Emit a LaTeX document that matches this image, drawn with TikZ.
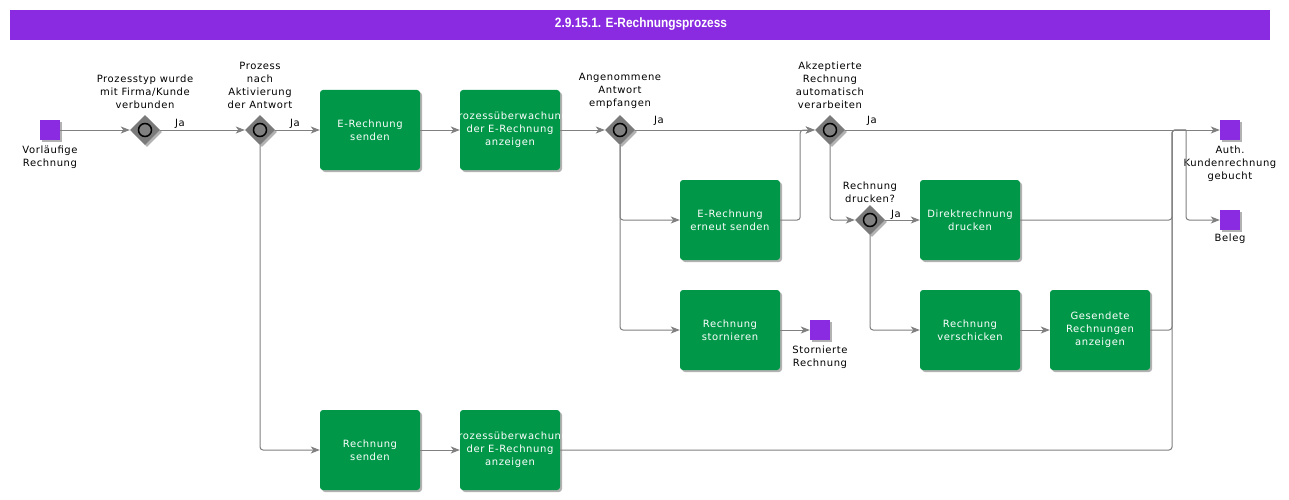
\documentclass[tikz,border=0pt]{standalone}
\usepackage{fontspec}
\setmainfont{DejaVu Sans}[LetterSpace=6]
\newfontfamily\titlefont{Liberation Sans}[FakeStretch=0.88]
\usetikzlibrary{shapes.geometric,arrows.meta,shadows}
\definecolor{pgreen}{HTML}{009848}
\definecolor{ppurple}{HTML}{8A2BE2}
\definecolor{lgray}{HTML}{808080}
\definecolor{dgray}{HTML}{7A7A7A}
\begin{document}
\begin{tikzpicture}[x=1pt,y=-1pt,
  font=\fontsize{10}{13}\selectfont,
  shad/.style={drop shadow={shadow xshift=2pt,shadow yshift=-2pt,opacity=0.3,fill=black}},
  task/.style={rectangle,rounded corners=3pt,fill=pgreen,minimum width=100pt,minimum height=80pt,inner sep=0pt,text=white,align=center,shad},
  ev/.style={rectangle,fill=ppurple,minimum size=20pt,inner sep=0pt,shad},
  gw/.style={diamond,fill=dgray,minimum width=30pt,minimum height=30pt,inner sep=0pt,shad},
  gwc/.style={circle,draw=black,line width=1.5pt,fill=lgray,minimum size=13pt,inner sep=0pt},
  lbl/.style={align=center,inner sep=0pt,text=black},
  conn/.style={draw=lgray,line width=1pt,rounded corners=3pt,-{Stealth[length=9pt,width=7pt,inset=2.5pt]}},
  line/.style={draw=lgray,line width=1pt,rounded corners=3pt}
]
\useasboundingbox (0,0) rectangle (1289,500);
\fill[white] (0,0) rectangle (1289,500);
% title
\fill[ppurple] (10,10) rectangle (1270,40);
\node[text=white,font=\titlefont\bfseries\fontsize{13.5}{15}\selectfont] (title) at (641,24.5) {2.9.15.1. E-Rechnungsprozess};

% events
\node[ev] (s1) at (50,130) {};
\node[lbl,anchor=north] (s1l) at (50,146) {Vorläufige\\Rechnung};
\node[ev] (storn) at (820,330) {};
\node[lbl,anchor=north] (stornl) at (820,346) {Stornierte\\Rechnung};
\node[ev] (auth) at (1230,130) {};
\node[lbl,anchor=north] (authl) at (1230,146) {Auth.\\Kundenrechnung\\gebucht};
\node[ev] (beleg) at (1230,220) {};
\node[lbl,anchor=north] (belegl) at (1230,234) {Beleg};

% gateways
\node[gw] (g1) at (145,130) {}; \node[gwc] (g1c) at (g1) {};
\node[gw] (g2) at (260,130) {}; \node[gwc] (g2c) at (g2) {};
\node[gw] (g3) at (620,130) {}; \node[gwc] (g3c) at (g3) {};
\node[gw] (g4) at (830,130) {}; \node[gwc] (g4c) at (g4) {};
\node[gw] (g5) at (870,220) {}; \node[gwc] (g5c) at (g5) {};
\node[lbl,anchor=south] (g1l) at (145,109) {Prozesstyp wurde\\mit Firma/Kunde\\verbunden};
\node[lbl,anchor=south] (g2l) at (260,109) {Prozess\\nach\\Aktivierung\\der Antwort};
\node[lbl,anchor=south] (g3l) at (620,109) {Angenommene\\Antwort\\empfangen};
\node[lbl,anchor=south] (g4l) at (830,109) {Akzeptierte\\Rechnung\\automatisch\\verarbeiten};
\node[lbl,anchor=south] (g5l) at (870,203) {Rechnung\\drucken?};

% tasks
\node[task] (ers) at (370,130) {E-Rechnung\\senden};
\node[task] (pu1) at (510,130) {\makebox[0pt]{Prozessüberwachung}\\der E-Rechnung\\anzeigen};
\node[task] (ern) at (730,220) {E-Rechnung\\erneut senden};
\node[task] (rst) at (730,330) {Rechnung\\stornieren};
\node[task] (dd) at (970,220) {Direktrechnung\\drucken};
\node[task] (rv) at (970,330) {Rechnung\\verschicken};
\node[task] (gra) at (1100,330) {Gesendete\\Rechnungen\\anzeigen};
\node[task] (rs) at (370,450) {Rechnung\\senden};
\node[task] (pu2) at (510,450) {\makebox[0pt]{Prozessüberwachung}\\der E-Rechnung\\anzeigen};

% junctions
\coordinate (jA) at (1172,130);
\coordinate (jB) at (1186,130);

% connectors
\draw[conn] (s1.east) -- (g1.west);
\draw[conn] (g1.east) -- (g2.west);
\draw[conn] (g2.east) -- (ers.west);
\draw[conn] (g2.south) |- (rs.west);
\draw[conn] (ers.east) -- (pu1.west);
\draw[conn] (rs.east) -- (pu2.west);
\draw[conn] (pu1.east) -- (g3.west);
\draw[conn] (g3.east) -- (g4.west);
\draw[conn] (g3.south) |- (ern.west);
\draw[conn] (g3.south) |- (rst.west);
\draw[conn] (rst.east) -- (storn.west);
\draw[conn] (ern.east) -- ++(20,0) |- (g4.west);
\draw[conn] (g4.east) -- (auth.west);
\draw[conn] (g4.south) |- (g5.west);
\draw[conn] (g5.east) -- (dd.west);
\draw[conn] (g5.south) |- (rv.west);
\draw[conn] (rv.east) -- (gra.west);
\draw[line] (dd.east) -| (jA) -- (jB);
\draw[line] (gra.east) -| (jA) -- (jB);
\draw[line] (pu2.east) -| (jA) -- (jB);
\draw[conn] (jB) |- (beleg.west);

% Ja labels
\node[lbl,anchor=base] (ja1) at (180,127) {Ja};
\node[lbl,anchor=base] (ja2) at (295,127) {Ja};
\node[lbl,anchor=base] (ja3) at (659,124) {Ja};
\node[lbl,anchor=base] (ja4) at (872,124) {Ja};
\node[lbl,anchor=base] (ja5) at (896,217) {Ja};
\end{tikzpicture}
\end{document}
